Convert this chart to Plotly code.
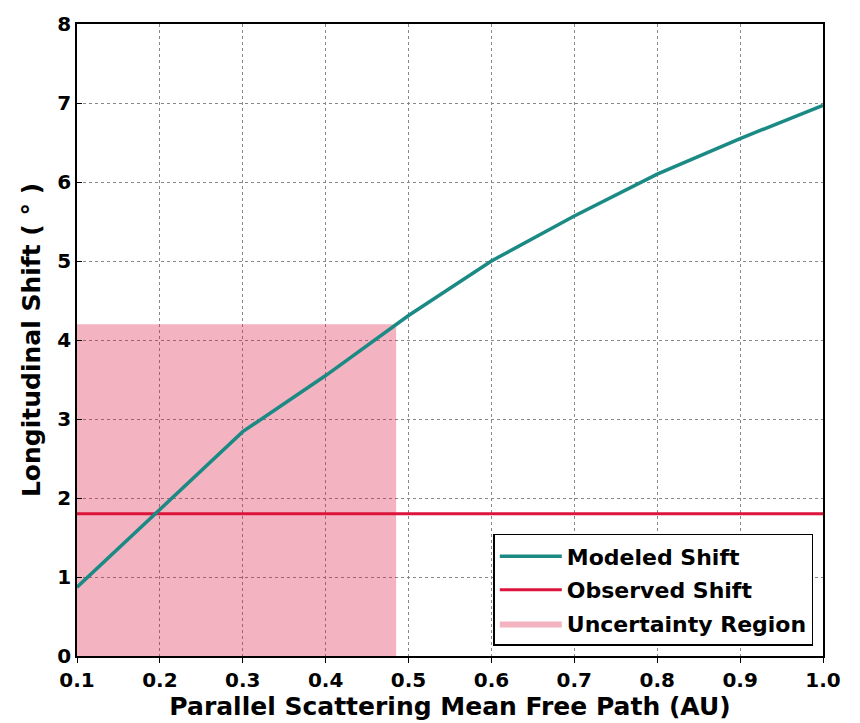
import plotly.graph_objects as go

# Mean free path (AU) and modeled longitudinal shift (degrees)
mfp = [0.1, 0.2, 0.3, 0.4, 0.5, 0.6, 0.7, 0.8, 0.9, 1.0]
modeled_shift = [0.87, 1.86, 2.84, 3.55, 4.31, 5.00, 5.57, 6.10, 6.55, 6.97]

# Observed shift (degrees)
observed_shift = 1.8

# Uncertainty region bounds
unc_x = [0.1, 0.485]
unc_y = [0.0, 4.2]

x_ticks = [0.1, 0.2, 0.3, 0.4, 0.5, 0.6, 0.7, 0.8, 0.9, 1.0]
y_ticks = [0, 1, 2, 3, 4, 5, 6, 7, 8]

FONT = "DejaVu Sans"
TEAL = "#1b8a84"
CRIMSON = "#dc143c"

fig = go.Figure()

fig.add_trace(go.Scatter(
    x=[unc_x[0], unc_x[1], unc_x[1], unc_x[0], unc_x[0]],
    y=[unc_y[0], unc_y[0], unc_y[1], unc_y[1], unc_y[0]],
    mode="lines", fill="toself",
    fillcolor="rgba(220,20,60,0.32)",
    line=dict(width=0, color="rgba(220,20,60,0.32)"),
    name="Uncertainty Region", legendrank=3, legendgroup="c",
    hoverinfo="skip",
))

fig.add_trace(go.Scatter(
    x=[x_ticks[0], x_ticks[-1]], y=[observed_shift, observed_shift],
    mode="lines", line=dict(color=CRIMSON, width=3),
    name="Observed Shift", legendrank=2, legendgroup="b",
))

fig.add_trace(go.Scatter(
    x=mfp, y=modeled_shift, mode="lines",
    line=dict(color=TEAL, width=3.5),
    name="Modeled Shift", legendrank=1, legendgroup="a",
))

axis_common = dict(
    showline=True, linecolor="black", linewidth=1.5, mirror=True,
    ticklen=5, tickcolor="black", tickwidth=1.2,
    showgrid=True, gridcolor="#888888", griddash="dot", gridwidth=1,
    zeroline=False,
    tickfont=dict(family=FONT, size=20, color="black", weight="bold"),
)

fig.update_xaxes(
    range=[0.1, 1.0], tickvals=x_ticks, ticks="outside",
    ticktext=[f"{v:.1f}" for v in x_ticks],
    title=dict(text="Parallel Scattering Mean Free Path (AU)",
               font=dict(family=FONT, size=25, color="black", weight="bold"),
               standoff=2),
    **axis_common,
)
fig.update_yaxes(
    range=[0, 8], tickvals=y_ticks, ticks="inside",
    title=dict(text="Longitudinal Shift ( ° )",
               font=dict(family=FONT, size=25, color="black", weight="bold"),
               standoff=10),
    **axis_common,
)

fig.update_layout(
    width=860, height=723,
    margin=dict(l=77, r=37, t=17, b=66),
    paper_bgcolor="white", plot_bgcolor="white",
    showlegend=True,
    legend=dict(
        x=0.987, y=0.016, xanchor="right", yanchor="bottom",
        bgcolor="white", bordercolor="black", borderwidth=1.5,
        font=dict(family=FONT, size=22, color="black", weight="bold"),
        traceorder="grouped", tracegroupgap=2, itemwidth=62,
    ),
)

fig.write_html("out.html")
